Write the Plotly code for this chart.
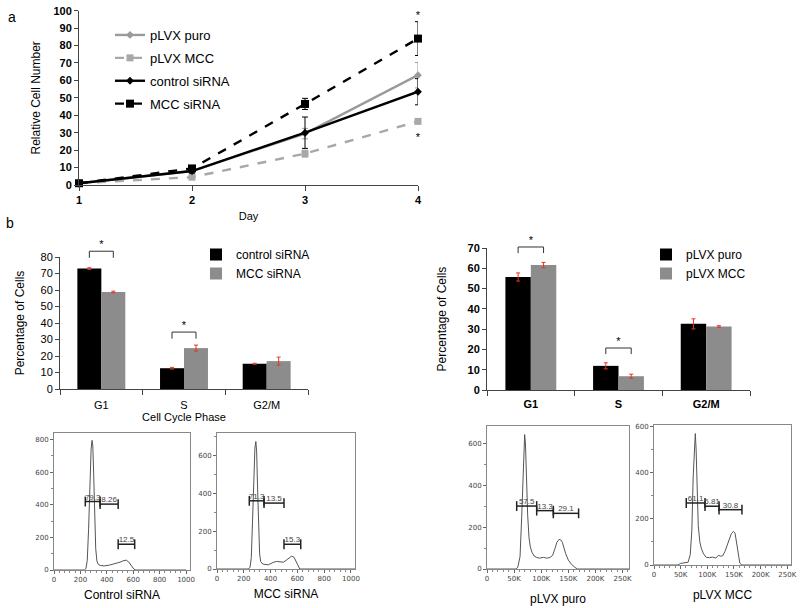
import plotly.graph_objects as go

OX, OY = 0, 0
W, H = 800, 608
FONT = "Liberation Sans, Arial, sans-serif"
HFONT = "DejaVu Sans, sans-serif"

# ---------------- panel a data ----------------
days = [1, 2, 3, 4]
puro_rel = [1, 8, 29.5, 63]
puro_rel_err = [0.3, 1.2, 3, 7.3]
pmcc_rel = [1, 4.5, 18, 36.5]
pmcc_rel_err = [0.3, 1, 2, 1]
ctrl_rel = [1, 8, 30, 53.5]
ctrl_rel_err = [0.3, 1.2, 9, 7.5]
mcc_rel = [1, 9.5, 46.5, 84]
mcc_rel_err = [0.3, 1.5, 3.2, 9.7]
star_a_x = [4, 4]
star_a_y = [97, 27]

# ---------------- panel b bar data ----------------
phases = ["G1", "S", "G2/M"]
phase_idx = [0, 1, 2]
ctrl_pct = [73, 12.6, 15.3]
ctrl_pct_err = [0.5, 0.5, 0.3]
mccsi_pct = [58.8, 24.8, 16.9]
mccsi_pct_err = [0.5, 1.8, 2.4]
left_sig_idx = [0, 1]
left_sig_y = [83.5, 34.5]

puro_pct = [55.7, 11.9, 32.6]
puro_pct_err = [2, 1.5, 2.5]
pmcc_pct = [61.6, 6.8, 31.3]
pmcc_pct_err = [1.3, 1, 0.4]
right_sig_idx = [0, 1]
right_sig_y = [70.5, 20.7]

# ---------------- histogram data ----------------
h1_x = [0, 230, 242, 252, 262, 272, 281, 288, 294, 300, 308, 316, 325, 335, 350, 380, 420, 460, 500, 530, 548, 565, 585, 605, 620, 1000]
h1_y = [0, 0, 8, 60, 250, 520, 740, 795, 760, 600, 330, 130, 55, 35, 28, 25, 30, 38, 48, 58, 60, 50, 25, 5, 0, 0]
h1_gx0 = [237, 349, 486]
h1_gx1 = [349, 486, 611]
h1_gy = [420, 404, 158]
h1_gl = ["79.3", "8.26", "12.5"]

h2_x = [0, 235, 247, 256, 265, 274, 283, 290, 296, 302, 310, 318, 326, 335, 350, 383, 420, 445, 470, 495, 520, 540, 557, 575, 592, 605, 618, 1030]
h2_y = [0, 0, 10, 60, 250, 480, 640, 675, 620, 450, 220, 80, 40, 30, 25, 22, 35, 40, 38, 36, 48, 60, 68, 62, 38, 12, 0, 0]
h2_gx0 = [241, 351, 500]
h2_gx1 = [351, 500, 625]
h2_gy = [361, 349, 131]
h2_gl = ["71.3", "13.5", "15.3"]

# x in thousands
h3_x = [0, 54, 57, 61, 64, 67, 69.5, 71, 73, 75, 77.5, 80, 83, 87, 92, 97, 104, 110, 116, 121, 125, 129, 133, 136, 139, 142, 145, 150, 156, 162, 167, 262]
h3_y = [0, 0, 10, 60, 250, 520, 645, 600, 420, 260, 150, 105, 80, 62, 55, 52, 56, 52, 55, 65, 95, 128, 142, 140, 128, 100, 75, 43, 22, 8, 0, 0]
h3_gx0 = [54.8, 91.7, 122.4]
h3_gx1 = [91.7, 122.4, 169]
h3_gy = [302, 280, 267]
h3_gl = ["57.5", "13.3", "29.1"]

h4_x = [0, 45, 50, 58, 64, 68, 71, 73.5, 76, 77.5, 79, 81, 83, 86, 89, 93, 98, 104, 110, 116, 121, 125, 129, 133, 137, 141, 145, 149, 152, 155, 158, 161, 165, 262]
h4_y = [0, 0, 7, 10, 12, 45, 150, 380, 540, 568, 500, 330, 170, 100, 70, 48, 33, 32, 34, 30, 42, 38, 40, 58, 85, 110, 135, 145, 138, 95, 40, 8, 0, 0]
h4_gx0 = [60.5, 95.7, 122]
h4_gx1 = [95.7, 122, 165]
h4_gy = [268, 254, 239]
h4_gl = ["61.1", "6.81", "30.8"]

k_ticks = [0, 50, 100, 150, 200, 250]
k_text = ["0", "50K", "100K", "150K", "200K", "250K"]


def px(x):
    return (x - OX) / W


def py(y):
    return 1 - (y - OY) / H


def xd(a, b):
    return [px(a), px(b)]


def yd(top, bottom):
    return [py(bottom), py(top)]


GRAY = "#9a9a9a"
LGRAY = "#a8a8a8"
fig = go.Figure()

# ---------------- panel a ----------------
series_a = [
    ("pLVX puro", puro_rel, puro_rel_err, GRAY, "solid", "diamond", 6),
    ("pLVX MCC", pmcc_rel, pmcc_rel_err, LGRAY, "dash", "square", 7),
    ("control siRNA", ctrl_rel, ctrl_rel_err, "black", "solid", "diamond", 6),
    ("MCC siRNA", mcc_rel, mcc_rel_err, "black", "dash", "square", 8),
]
for name, vals, errs, col, dash, sym, ms in series_a:
    fig.add_trace(go.Scatter(
        x=days, y=vals, name=name, mode="lines+markers", xaxis="x", yaxis="y",
        line=dict(color=col, width=2.4, dash=dash),
        marker=dict(symbol=sym, size=ms, color=col),
        error_y=dict(type="data", array=errs, color=col, thickness=1, width=3),
        cliponaxis=False, legend="legend", legendgroup=name,
    ))
fig.add_trace(go.Scatter(
    x=star_a_x, y=star_a_y, mode="text", text=["*", "*"], textposition="middle center",
    textfont=dict(family=FONT, size=11, color="black"), xaxis="x", yaxis="y",
    showlegend=False, cliponaxis=False,
))

# ---------------- panel b bar charts ----------------
BW = 0.29


def bars(xa, ya, ya_sig, leg, names, vals, errs, sig_idx, sig_y, drop):
    cols = ["black", "#8c8c8c"]
    offs = [-BW, 0]
    for nm, v, e, c, o in zip(names, vals, errs, cols, offs):
        fig.add_trace(go.Bar(
            x=phase_idx, y=v, name=nm, xaxis=xa, yaxis=ya, width=BW, offset=o,
            marker=dict(color=c, line=dict(width=0)),
            error_y=dict(type="data", array=e, color="#e8341c", thickness=1, width=2),
            legend=leg, cliponaxis=False,
        ))
    bx, by = [], []
    for i, h in zip(sig_idx, sig_y):
        bx += [i - BW / 2, i - BW / 2, i + BW / 2, i + BW / 2, None]
        by += [h - drop, h, h, h - drop, None]
    fig.add_trace(go.Scatter(x=bx, y=by, mode="lines", xaxis=xa, yaxis=ya_sig,
                             line=dict(color="#333", width=1), showlegend=False,
                             cliponaxis=False, hoverinfo="skip"))
    fig.add_trace(go.Scatter(x=sig_idx, y=sig_y, mode="text", text=["*"] * len(sig_idx),
                             textposition="top center", xaxis=xa, yaxis=ya_sig,
                             textfont=dict(family=FONT, size=11, color="black"),
                             showlegend=False, cliponaxis=False))


bars("x2", "y2", "y8", "legend2", ["control siRNA", "MCC siRNA"], [ctrl_pct, mccsi_pct],
     [ctrl_pct_err, mccsi_pct_err], left_sig_idx, left_sig_y, 4)
bars("x3", "y3", "y9", "legend3", ["pLVX puro", "pLVX MCC"], [puro_pct, pmcc_pct],
     [puro_pct_err, pmcc_pct_err], right_sig_idx, right_sig_y, 3)

# ---------------- histograms ----------------
hists = [
    ("x4", "y4", h1_x, h1_y, h1_gx0, h1_gx1, h1_gy, h1_gl),
    ("x5", "y5", h2_x, h2_y, h2_gx0, h2_gx1, h2_gy, h2_gl),
    ("x6", "y6", h3_x, h3_y, h3_gx0, h3_gx1, h3_gy, h3_gl),
    ("x7", "y7", h4_x, h4_y, h4_gx0, h4_gx1, h4_gy, h4_gl),
]
for xa, ya, hx, hy, g0, g1, gy, gl in hists:
    fig.add_trace(go.Scatter(x=hx, y=hy, mode="lines", xaxis=xa, yaxis=ya,
                             line=dict(color="#555", width=1), showlegend=False))
    for a, b, y in zip(g0, g1, gy):
        fig.add_trace(go.Scatter(x=[a, b], y=[y, y], mode="lines+markers", xaxis=xa, yaxis=ya,
                                 line=dict(color="#222", width=1.5),
                                 marker=dict(symbol="line-ns", size=7,
                                             line=dict(color="#222", width=1.5)),
                                 showlegend=False, cliponaxis=False))
    fig.add_trace(go.Scatter(x=[(a + b) / 2 for a, b in zip(g0, g1)], y=gy, text=gl,
                             mode="text", textposition="top center", xaxis=xa, yaxis=ya,
                             textfont=dict(family=FONT, size=8, color="#444"),
                             showlegend=False, cliponaxis=False))

# ---------------- layout ----------------
bold11 = dict(family=FONT, size=11, color="black", weight="bold")
reg11 = dict(family=FONT, size=11, color="black")
tfont = dict(family=FONT, size=12, color="black")

hax = dict(showline=True, linecolor="#888", linewidth=1, mirror=True, ticks="outside",
           ticklen=3, tickcolor="#666", tickfont=dict(family=HFONT, size=7, color="#444"),
           showgrid=False, zeroline=False, automargin=False,
           minor=dict(ticks="outside", ticklen=2, tickcolor="#888"))

# left bars: 0..80 over 257..389 px ; right bars: 0..70 over 248..390 px
L_TOP, L_BOT, R_TOP, R_BOT = 257, 389, 248, 390
L_EXT, R_EXT = 225, 215

layout = dict(
    width=W, height=H, margin=dict(l=0, r=0, t=0, b=0),
    paper_bgcolor="white", plot_bgcolor="rgba(0,0,0,0)", font=dict(family=FONT, color="black"),
    barmode="overlay",
    xaxis=dict(domain=xd(79, 418), range=[1, 4], tickvals=days, ticks="outside", ticklen=5,
               showline=True, linecolor="#444", linewidth=1, showgrid=False, zeroline=False,
               tickfont=bold11, title=dict(text="Day", font=reg11, standoff=7), automargin=False,
               anchor="y"),
    yaxis=dict(domain=yd(10.7, 185), range=[0, 100], dtick=10, ticks="outside", ticklen=4,
               showline=True, linecolor="#444", linewidth=1, showgrid=False, zeroline=False,
               tickfont=bold11, title=dict(text="Relative Cell Number", font=tfont, standoff=10),
               automargin=False, anchor="x"),
    xaxis2=dict(domain=xd(60, 308), range=[-0.5, 2.5], tickvals=phase_idx, ticktext=phases,
                ticks="", showline=True, linecolor="#444", showgrid=False, zeroline=False,
                tickfont=reg11, automargin=False, anchor="y2", ticklabelstandoff=6,
                minor=dict(tickvals=[-0.5, 0.5, 1.5, 2.5], ticks="outside", ticklen=5, tickcolor="#444"),
                title=dict(text="Cell Cycle Phase", font=reg11, standoff=3)),
    yaxis2=dict(domain=yd(L_TOP, L_BOT), range=[0, 80], dtick=10, ticks="outside", ticklen=4,
                showline=True, linecolor="#444", showgrid=False, zeroline=False,
                tickfont=reg11, automargin=False, anchor="x2",
                title=dict(text="Percentage of Cells", font=tfont, standoff=13)),
    yaxis8=dict(domain=yd(L_EXT, L_BOT), range=[0, 80 * (L_BOT - L_EXT) / (L_BOT - L_TOP)],
                visible=False, anchor="x2"),
    xaxis3=dict(domain=xd(487, 750), range=[-0.5, 2.5], tickvals=phase_idx, ticktext=phases,
                ticks="", showline=True, linecolor="#444", showgrid=False, zeroline=False,
                tickfont=bold11, automargin=False, anchor="y3", ticklabelstandoff=4,
                minor=dict(tickvals=[-0.5, 0.5, 1.5, 2.5], ticks="outside", ticklen=5, tickcolor="#444")),
    yaxis3=dict(domain=yd(R_TOP, R_BOT), range=[0, 70], dtick=10, ticks="outside", ticklen=4,
                showline=True, linecolor="#444", showgrid=False, zeroline=False,
                tickfont=bold11, automargin=False, anchor="x3",
                title=dict(text="Percentage of Cells", font=tfont, standoff=18)),
    yaxis9=dict(domain=yd(R_EXT, R_BOT), range=[0, 70 * (R_BOT - R_EXT) / (R_BOT - R_TOP)],
                visible=False, anchor="x3"),
    xaxis4=dict(hax, domain=xd(54, 190), range=[0, 1030], dtick=200, anchor="y4",
                minor=dict(hax["minor"], dtick=40),
                title=dict(text="Control siRNA", font=tfont, standoff=7)),
    yaxis4=dict(hax, domain=yd(433, 570), range=[0, 840], dtick=200, anchor="x4",
                minor=dict(hax["minor"], dtick=100)),
    xaxis5=dict(hax, domain=xd(217, 355), range=[0, 1030], dtick=200, anchor="y5",
                minor=dict(hax["minor"], dtick=40),
                title=dict(text="MCC siRNA", font=tfont, standoff=7)),
    yaxis5=dict(hax, domain=yd(433, 569), range=[0, 720], dtick=200, anchor="x5",
                minor=dict(hax["minor"], dtick=100)),
    xaxis6=dict(hax, domain=xd(487, 629), range=[0, 262], tickvals=k_ticks, ticktext=k_text,
                anchor="y6", minor=dict(hax["minor"], dtick=10),
                title=dict(text="pLVX puro", font=tfont, standoff=12)),
    yaxis6=dict(hax, domain=yd(426, 569), range=[0, 686], dtick=200, anchor="x6",
                minor=dict(hax["minor"], dtick=100)),
    xaxis7=dict(hax, domain=xd(654, 791), range=[0, 257], tickvals=k_ticks, ticktext=k_text,
                anchor="y7", minor=dict(hax["minor"], dtick=10),
                title=dict(text="pLVX MCC", font=tfont, standoff=12)),
    yaxis7=dict(hax, domain=yd(425, 565), range=[0, 605], dtick=200, anchor="x7",
                minor=dict(hax["minor"], dtick=100)),
    legend=dict(x=px(110), y=py(20), xanchor="left", yanchor="top", bgcolor="rgba(0,0,0,0)",
                font=dict(family=FONT, size=13, color="black"), tracegroupgap=3, itemwidth=30),
    legend2=dict(x=px(196), y=py(240), xanchor="left", yanchor="top", bgcolor="rgba(0,0,0,0)",
                 font=dict(family=FONT, size=12, color="black")),
    legend3=dict(x=px(646), y=py(240), xanchor="left", yanchor="top", bgcolor="rgba(0,0,0,0)",
                 font=dict(family=FONT, size=12, color="black")),
    annotations=[
        dict(text="a", x=px(12), y=py(17), xref="paper", yref="paper", showarrow=False,
             xanchor="center", yanchor="middle", font=dict(family=FONT, size=14, color="black")),
        dict(text="b", x=px(10), y=py(223), xref="paper", yref="paper", showarrow=False,
             xanchor="center", yanchor="middle", font=dict(family=FONT, size=14, color="black")),
    ],
)
fig.update_layout(**layout)
# remove the browser's default 8px body margin so the 800x608 figure fills the window
fig.write_html("out.html", config={"displayModeBar": False},
               post_script="document.body.style.margin='0';")
